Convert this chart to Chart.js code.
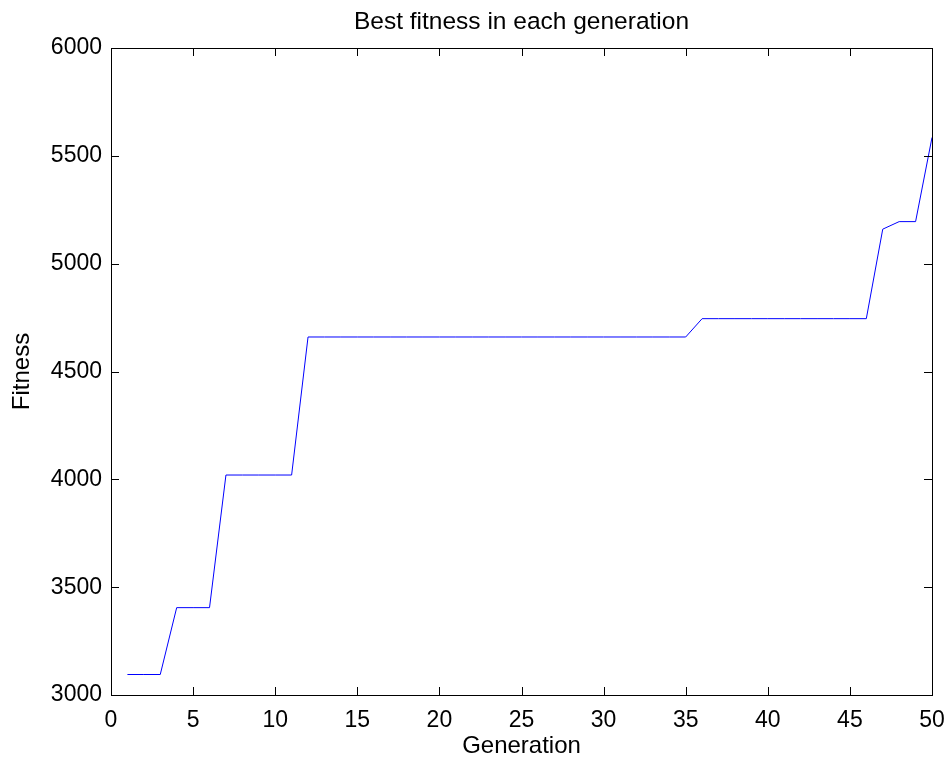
<!DOCTYPE html>
<html>
<head>
<meta charset="utf-8">
<title>Best fitness in each generation</title>
<script src="https://cdn.jsdelivr.net/npm/chart.js@4/dist/chart.umd.min.js"></script>
<style>
  html, body { margin: 0; padding: 0; background: #fff; }
  #wrap { width: 949px; height: 765px; }
</style>
</head>
<body>
<div id="wrap"><canvas id="fitness-chart" width="949" height="765"></canvas></div>
<script>
// best fitness found in each generation of the GA run
const generations = [
    1, 2, 3, 4, 5, 6, 7, 8, 9, 10,
    11, 12, 13, 14, 15, 16, 17, 18, 19, 20,
    21, 22, 23, 24, 25, 26, 27, 28, 29, 30,
    31, 32, 33, 34, 35, 36, 37, 38, 39, 40,
    41, 42, 43, 44, 45, 46, 47, 48, 49, 50
];
const bestFitness = [
    3095, 3095, 3095, 3405, 3405, 3405, 4020, 4020, 4020, 4020,
    4020, 4660, 4660, 4660, 4660, 4660, 4660, 4660, 4660, 4660,
    4660, 4660, 4660, 4660, 4660, 4660, 4660, 4660, 4660, 4660,
    4660, 4660, 4660, 4660, 4660, 4745, 4745, 4745, 4745, 4745,
    4745, 4745, 4745, 4745, 4745, 4745, 5160, 5195, 5195, 5585
];
const xTicks = [0, 5, 10, 15, 20, 25, 30, 35, 40, 45, 50];
const yTicks = [3000, 3500, 4000, 4500, 5000, 5500, 6000];
const chartTitle = 'Best fitness in each generation';

const FONT = "'Liberation Sans', Arial, Helvetica, sans-serif";

// box around the plot, inward tick marks on all four sides,
// and the title centred over the plot area
const matlabAxes = {
    id: 'matlabAxes',
    afterDatasetsDraw(chart) {
        const { ctx, chartArea: a, scales } = chart;
        const len = 8;
        ctx.save();
        ctx.strokeStyle = '#000';
        ctx.lineWidth = 1;
        ctx.beginPath();
        xTicks.forEach(v => {
            const px = Math.round(scales.x.getPixelForValue(v)) + 0.5;
            ctx.moveTo(px, a.bottom); ctx.lineTo(px, a.bottom - len);
            ctx.moveTo(px, a.top); ctx.lineTo(px, a.top + len);
        });
        yTicks.forEach(v => {
            const py = Math.round(scales.y.getPixelForValue(v)) + 0.5;
            ctx.moveTo(a.left, py); ctx.lineTo(a.left + len, py);
            ctx.moveTo(a.right, py); ctx.lineTo(a.right - len, py);
        });
        ctx.stroke();
        ctx.strokeRect(Math.round(a.left) + 0.5, Math.round(a.top) + 0.5,
            Math.round(a.right - a.left), Math.round(a.bottom - a.top));

        ctx.fillStyle = '#000';
        ctx.font = '24.5px ' + FONT;
        ctx.textAlign = 'center';
        ctx.textBaseline = 'middle';
        ctx.fillText(chartTitle, (a.left + a.right) / 2, 22);
        ctx.restore();
    }
};

const plainNumber = v => String(v);

const ctx = document.getElementById('fitness-chart').getContext('2d');
new Chart(ctx, {
    type: 'line',
    data: {
        datasets: [{
            label: 'Best fitness',
            data: generations.map((g, i) => ({ x: g, y: bestFitness[i] })),
            borderColor: '#0000ff',
            borderWidth: 1,
            pointRadius: 0,
            tension: 0,
            fill: false
        }]
    },
    options: {
        responsive: false,
        animation: false,
        layout: { padding: { top: 48, right: 17, bottom: 0, left: 0 } },
        plugins: {
            legend: { display: false },
            tooltip: { enabled: false },
            title: { display: false }
        },
        scales: {
            x: {
                type: 'linear',
                min: 0,
                max: 50,
                afterFit(scale) {
                    scale.height = 70;
                    // end labels may overhang the plot edges
                    scale.paddingLeft = 0;
                    scale.paddingRight = 0;
                },
                afterBuildTicks(scale) { scale.ticks = xTicks.map(v => ({ value: v })); },
                grid: { display: false, drawTicks: false },
                border: { display: false },
                ticks: {
                    color: '#000',
                    padding: 12,
                    maxRotation: 0,
                    autoSkip: false,
                    callback: plainNumber,
                    font: { family: FONT, size: 23 }
                },
                title: {
                    display: true,
                    text: 'Generation',
                    color: '#000',
                    font: { family: FONT, size: 24 },
                    padding: { top: 0, bottom: 4 }
                }
            },
            y: {
                type: 'linear',
                min: 3000,
                max: 6000,
                afterFit(scale) { scale.width = 111; },
                afterBuildTicks(scale) { scale.ticks = yTicks.map(v => ({ value: v })); },
                grid: { display: false, drawTicks: false },
                border: { display: false },
                ticks: {
                    color: '#000',
                    padding: 9,
                    autoSkip: false,
                    callback: plainNumber,
                    font: { family: FONT, size: 23 }
                },
                title: {
                    display: true,
                    text: 'Fitness',
                    color: '#000',
                    font: { family: FONT, size: 24 },
                    padding: { top: 8, bottom: 0 }
                }
            }
        }
    },
    plugins: [matlabAxes]
});
</script>
</body>
</html>
